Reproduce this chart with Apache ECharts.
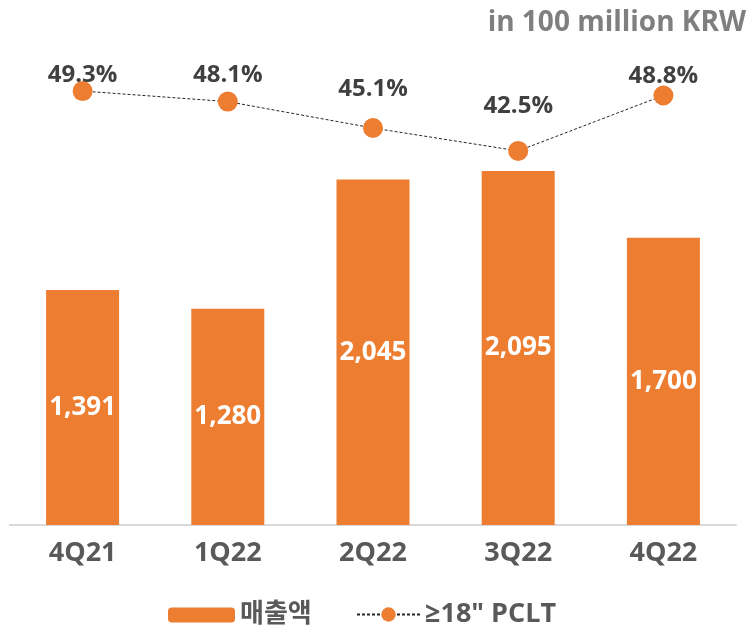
<!DOCTYPE html>
<html>
<head>
<meta charset="utf-8">
<script src="https://cdn.jsdelivr.net/npm/echarts@6/dist/echarts.min.js"></script>
<style>
  html, body { margin: 0; padding: 0; background: #fff; }
  #chart { width: 753px; height: 633px; }
</style>
</head>
<body>
<div id="chart"></div>
<script>
// 데이터
var quarters = ["4Q21", "1Q22", "2Q22", "3Q22", "4Q22"];
var sales = [1391, 1280, 2045, 2095, 1700];
var pcltShare = [49.3, 48.1, 45.1, 42.5, 48.8];

// label shift (px) for each % label, so they sit like the original
var labelShift = [6, -4, -17, -23, 3];

var fontMain = "'Open Sans', 'Noto Sans CJK KR', sans-serif";

var lineData = [];
for (var i = 0; i < pcltShare.length; i++) {
  lineData.push({ value: pcltShare[i], label: { offset: [0, labelShift[i]] } });
}

var option = {
  animation: false,
  title: {
    text: "in 100 million KRW",
    right: 2,
    top: 4,
    textStyle: { color: "#7f7f7f", fontSize: 28, fontWeight: "bold", fontFamily: fontMain }
  },
  legend: [
    {
      data: ["매출액"],
      left: 163,
      top: 597,
      itemWidth: 67,
      itemHeight: 15,
      itemGap: 8,
      textStyle: { color: "#595959", fontSize: 26, fontWeight: "bold", fontFamily: fontMain }
    },
    {
      data: ["≥18\" PCLT"],
      left: 351,
      top: 596,
      itemWidth: 63,
      itemHeight: 18,
      itemGap: 14,
      textStyle: { color: "#595959", fontSize: 27, fontWeight: "bold", fontFamily: fontMain }
    }
  ],
  grid: { left: 10, right: 17, top: 18, bottom: 108 },
  xAxis: {
    type: "category",
    data: quarters,
    axisLine: { lineStyle: { color: "#d9d9d9", width: 2 } },
    axisTick: { show: false },
    axisLabel: { color: "#595959", fontSize: 27, fontWeight: "bold", fontFamily: fontMain, margin: 15 }
  },
  yAxis: [
    { type: "value", min: 0, max: 3000, show: false, splitLine: { show: false } },
    { type: "value", min: 0, max: 57.6, show: false, splitLine: { show: false } }
  ],
  series: [
    {
      name: "매출액",
      type: "bar",
      data: sales,
      barWidth: 73,
      itemStyle: { color: "#ed7d31" },
      label: {
        show: true,
        position: "inside",
        color: "#fff",
        fontSize: 26,
        fontWeight: "bold",
        fontFamily: fontMain,
        formatter: function (p) { return p.value.toLocaleString("en-US"); }
      }
    },
    {
      name: "≥18\" PCLT",
      type: "line",
      yAxisIndex: 1,
      data: lineData,
      symbol: "circle",
      symbolSize: 20,
      itemStyle: { color: "#ed7d31" },
      lineStyle: { color: "#262626", width: 1, type: [3, 2] },
      label: {
        show: true,
        position: "top",
        distance: 0,
        color: "#404040",
        fontSize: 24,
        fontWeight: "bold",
        fontFamily: fontMain,
        formatter: function (p) { return p.value.toFixed(1) + "%"; }
      }
    }
  ]
};

var myChart = echarts.init(document.getElementById("chart"));
myChart.setOption(option);
</script>
</body>
</html>
